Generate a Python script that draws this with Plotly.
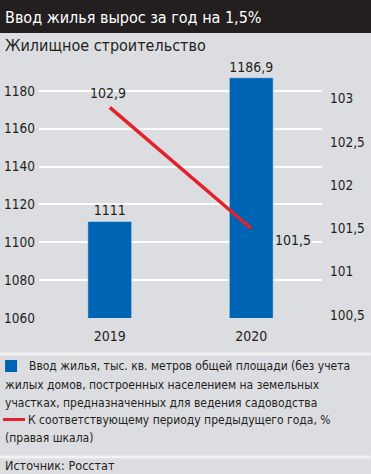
import plotly.graph_objects as go

# ---- data ----
years = ["2019", "2020"]
housing = [1111, 1186.9]          # тыс. кв. м
growth = [102.9, 101.5]           # % к предыдущему году
left_ticks = [1060, 1080, 1100, 1120, 1140, 1160, 1180]
right_ticks = [100.5, 101, 101.5, 102, 102.5, 103]
right_tick_text = ["100,5", "101", "101,5", "102", "102,5", "103"]

# ---- layout geometry (pixels) ----
W, H = 371, 474
L, R, T, B = 39, 322.5, 62, 318
BG = "#dcdde0"
DARK = "#231f20"
BLUE = "#0064b4"
RED = "#e3202b"
INK = "#231f20"
FONT = "DejaVu Sans Condensed, Roboto, sans-serif"


def px(x):
    return (x - L) / (R - L)


def py(y):
    return (B - y) / (B - T)


def fmt(v):
    return ("%g" % v).replace(".", ",")


fig = go.Figure()
fig.add_trace(go.Bar(
    x=years, y=housing, marker_color=BLUE, width=0.31,
    text=[fmt(v) for v in housing], textposition="outside",
    textfont=dict(size=14, color=INK, family=FONT),
    cliponaxis=False, showlegend=False,
))
fig.add_trace(go.Scatter(
    x=years, y=growth, yaxis="y2", mode="lines",
    line=dict(color=RED, width=3.5), showlegend=False,
))


def note(x, y, text, size=12, **kw):
    return dict(x=px(x), y=py(y), xref="paper", yref="paper", xanchor="left",
                yanchor="middle", text=text, showarrow=False,
                font=dict(size=size, color=kw.pop("color", INK), family=FONT), **kw)


annotations = [
    dict(x=years.index("2019"), y=growth[0], xref="x", yref="y2", text=fmt(growth[0]),
         showarrow=False, yshift=14, xshift=-2,
         font=dict(size=14, color=INK, family=FONT)),
    dict(x=years.index("2020"), y=growth[1], xref="x", yref="y2", text=fmt(growth[1]),
         showarrow=False, yshift=-12, xshift=42, bgcolor=BG, borderpad=0,
         font=dict(size=14, color=INK, family=FONT)),
    note(3, 17, "Ввод жилья вырос за год на 1,5%", size=16, color="white"),
    note(3, 45, "Жилищное строительство", size=16),
    note(27, 366, "Ввод жилья, тыс. кв. метров общей площади (без учета"),
    note(3, 384.5, "жилых домов, построенных населением на земельных"),
    note(3, 402.5, "участках, предназначенных для ведения садоводства"),
    note(26, 420, "К соответствующему периоду предыдущего года, %"),
    note(3, 437.5, "(правая шкала)"),
    note(3, 465, "Источник: Росстат", size=12.5),
]

shapes = [
    dict(type="rect", xref="paper", yref="paper", x0=px(-2), x1=px(W + 2), y0=py(33), y1=py(-2),
         fillcolor=DARK, line_width=0, layer="below"),
    dict(type="line", xref="paper", yref="paper", x0=px(0), x1=px(W), y0=py(354), y1=py(354),
         line=dict(color="#f2f2f2", width=3)),
    dict(type="line", xref="paper", yref="paper", x0=px(0), x1=px(W), y0=py(457), y1=py(457),
         line=dict(color="#f2f2f2", width=3)),
    dict(type="rect", xref="paper", yref="paper", x0=px(5), x1=px(17), y0=py(372), y1=py(360),
         fillcolor=BLUE, line_width=0),
    dict(type="line", xref="paper", yref="paper", x0=px(3), x1=px(25), y0=py(419.5), y1=py(419.5),
         line=dict(color=RED, width=3)),
]

fig.update_layout(
    width=W, height=H,
    margin=dict(l=L, r=W - R, t=T, b=H - B, pad=0, autoexpand=False),
    paper_bgcolor=BG, plot_bgcolor=BG,
    font=dict(family=FONT, size=14, color=INK),
    separators=", ",
    xaxis=dict(type="category", range=[-0.5, 1.5], showgrid=False, zeroline=False,
               showline=False, ticks="", ticklabelstandoff=8, automargin=False,
               tickfont=dict(size=14, family=FONT, color=INK)),
    yaxis=dict(range=[1060, 1195.2], tickvals=left_ticks, showgrid=True,
               gridcolor="white", gridwidth=1.5, zeroline=False, showline=False,
               ticks="", ticklabelstandoff=3, automargin=False,
               tickfont=dict(size=13.5, family=FONT, color=INK)),
    yaxis2=dict(overlaying="y", side="right", range=[100.465, 103.425],
                tickvals=right_ticks, ticktext=right_tick_text, showgrid=False,
                zeroline=False, showline=False, ticks="", ticklabelstandoff=7,
                automargin=False, tickfont=dict(size=13.5, family=FONT, color=INK)),
    annotations=annotations, shapes=shapes, bargap=0.5, showlegend=False,
)

fig.write_html("out.html", config={"displayModeBar": False},
               post_script="document.body.style.margin='0';document.body.style.overflow='hidden';")
